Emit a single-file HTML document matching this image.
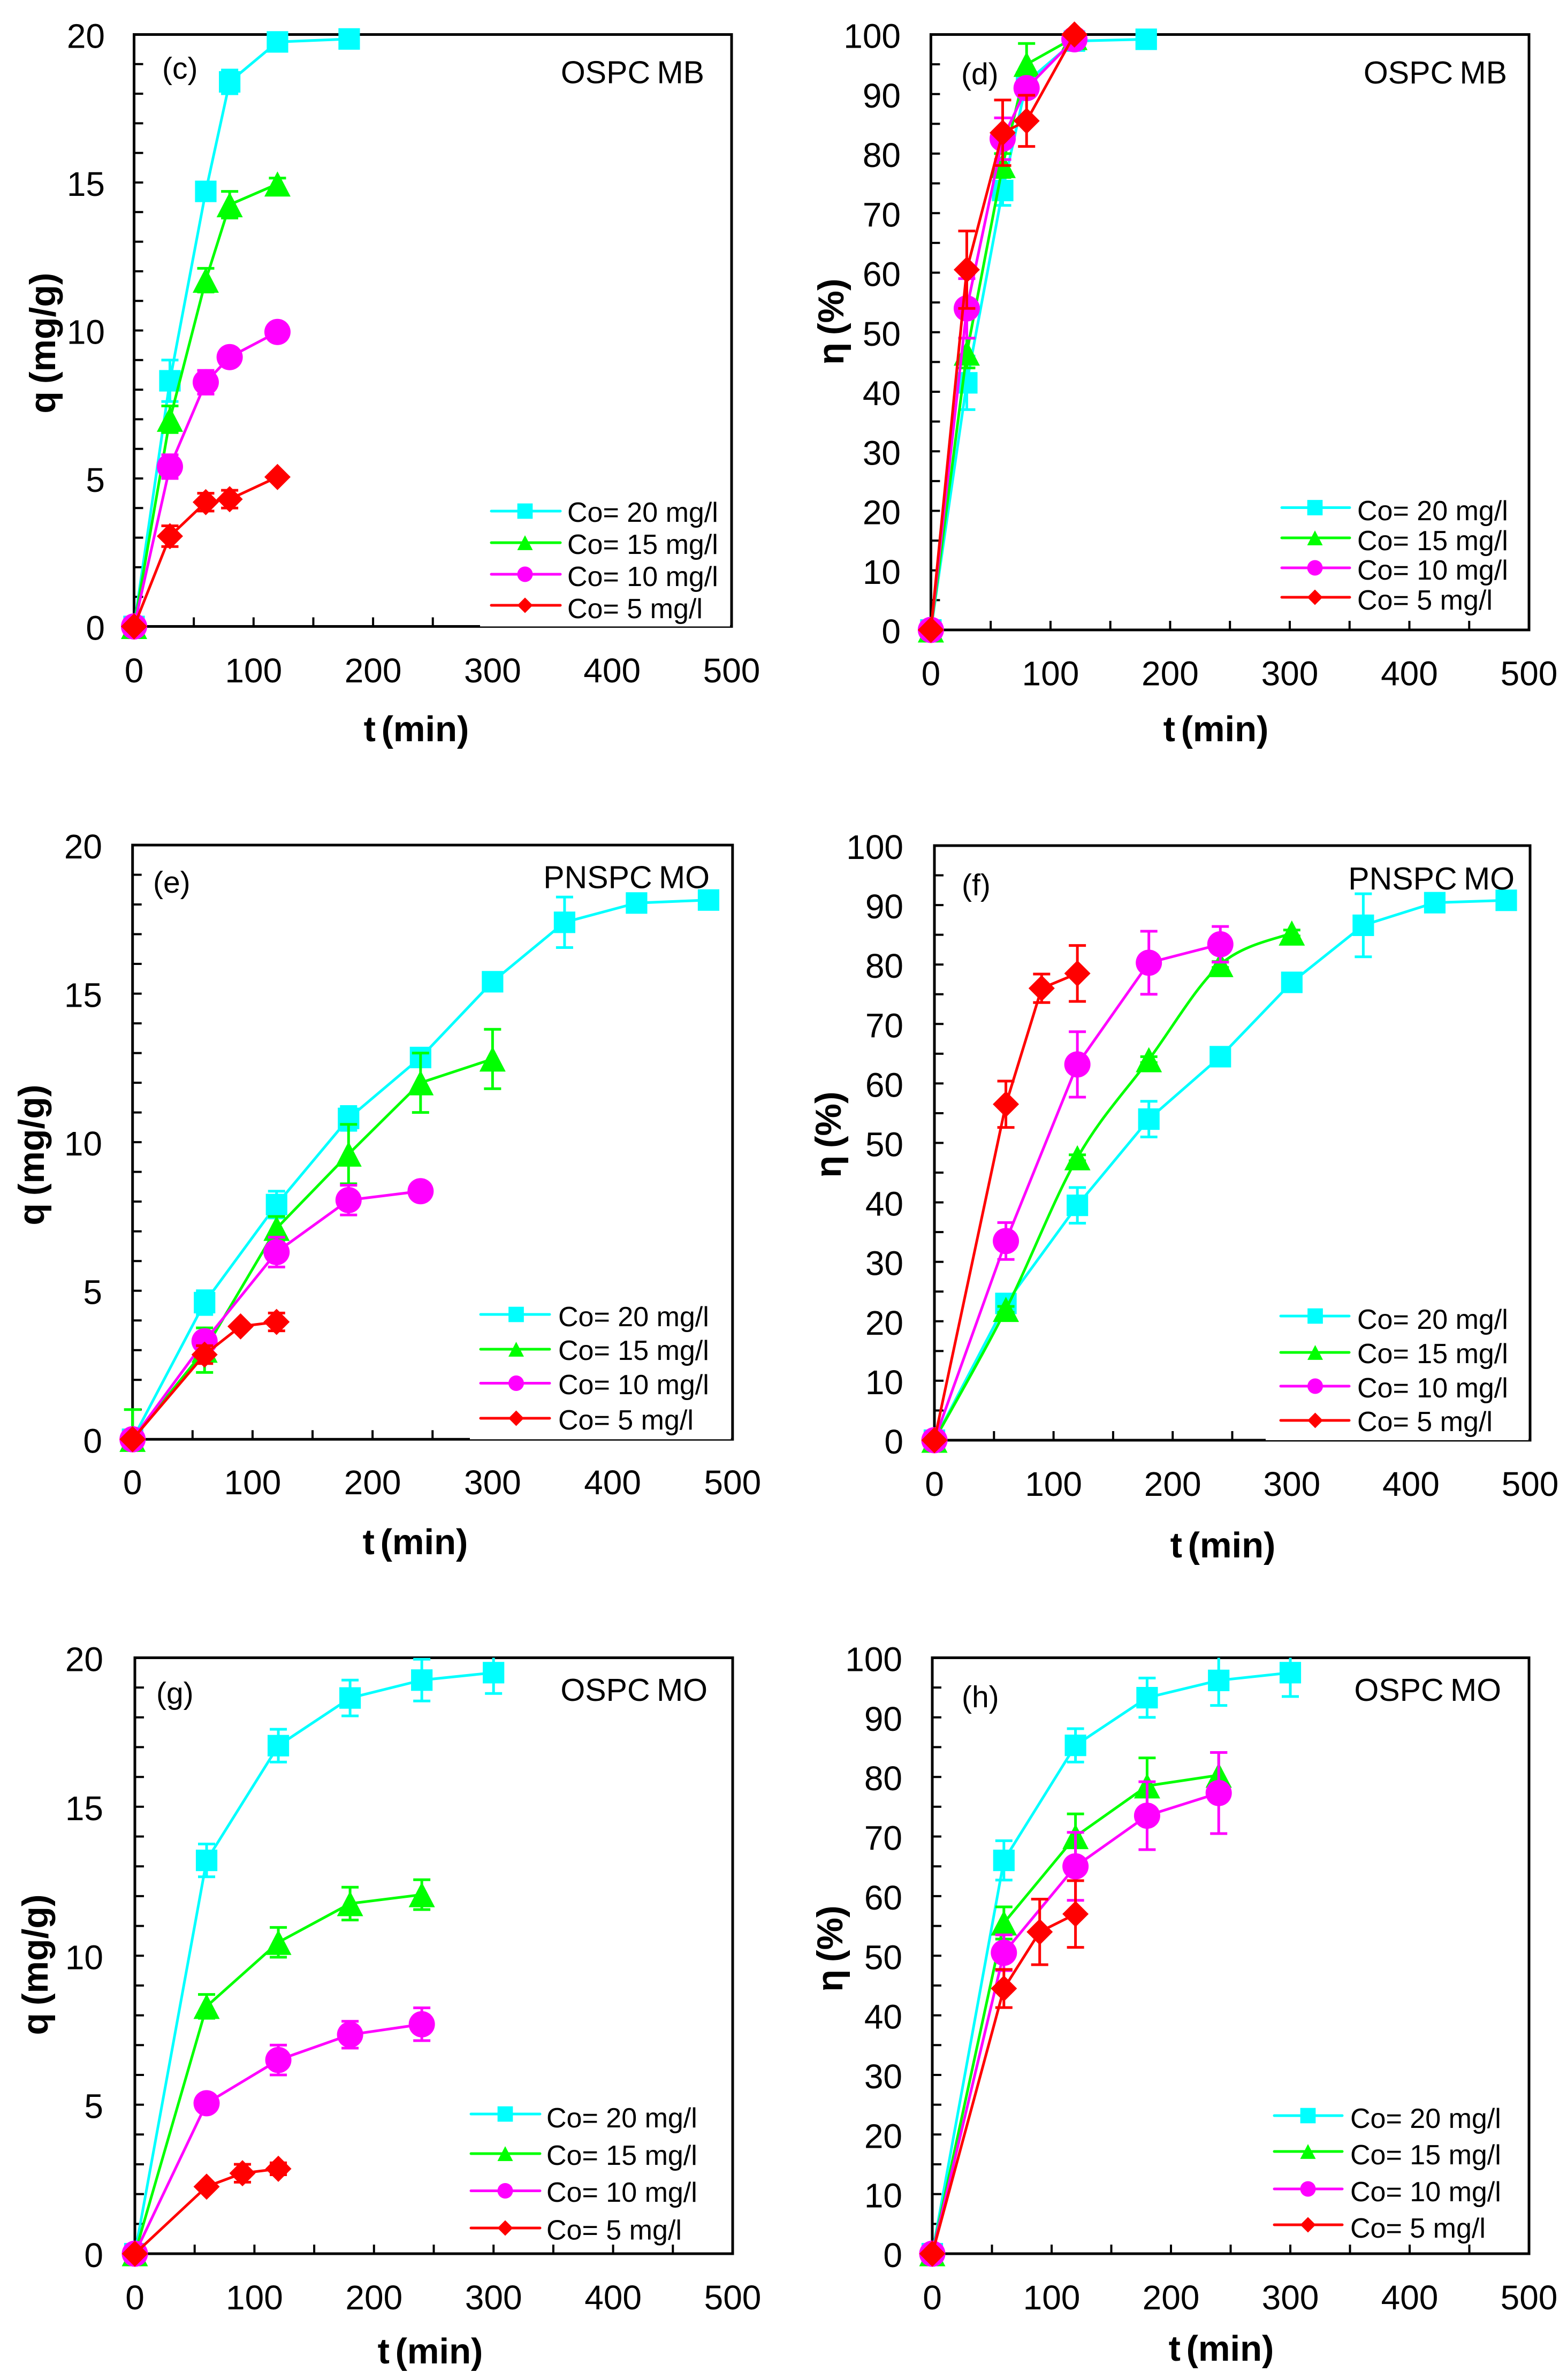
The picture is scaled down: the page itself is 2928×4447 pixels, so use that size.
<!DOCTYPE html>
<html lang="en">
<head>
<meta charset="utf-8">
<title>Adsorption kinetics panels</title>
<style>
html,body{margin:0;padding:0;background:#fff;}
svg{display:block;}
text{font-family:"Liberation Sans",Arial,sans-serif;fill:#000;}
</style>
</head>
<body>
<svg id="figure" xmlns="http://www.w3.org/2000/svg" width="2928" height="4447" viewBox="0 0 2928 4447"></svg>
<script>
// ---- shared axis data ----
const xTickLabels = [0, 100, 200, 300, 400, 500];
const xMinorTicks = [50, 100, 150, 200, 250, 300, 350, 400, 450];
const qTickLabels = [0, 5, 10, 15, 20];
const qMinorTicks = [1,2,3,4,5,6,7,8,9,10,11,12,13,14,15,16,17,18,19];
const etaTickLabels = [0, 10, 20, 30, 40, 50, 60, 70, 80, 90, 100];
const etaMinorTicks = [5,10,15,20,25,30,35,40,45,50,55,60,65,70,75,80,85,90,95];
const seriesLabels = ["Co= 20 mg/l", "Co= 15 mg/l", "Co= 10 mg/l", "Co= 5 mg/l"];

// ---- panel (c) ----
const cT20 = [0, 30, 60, 80, 120, 180];
const cV20 = [0, 8.3, 14.7, 18.4, 19.75, 19.85];
const cE20 = [0, 0.7, 0.3, 0.4, 0.1, 0];
const cT15 = [0, 30, 60, 80, 120];
const cV15 = [0, 7.0, 11.7, 14.25, 14.95];
const cE15 = [0, 0.45, 0.4, 0.45, 0.2];
const cT10 = [0, 30, 60, 80, 120];
const cV10 = [0, 5.4, 8.25, 9.1, 9.95];
const cE10 = [0, 0.4, 0.4, 0.2, 0.1];
const cT5 = [0, 30, 60, 80, 120];
const cV5 = [0, 3.05, 4.2, 4.3, 5.05];
const cE5 = [0, 0.35, 0.3, 0.3, 0.1];

// ---- panel (d) ----
const dT20 = [0, 30, 60, 80, 120, 180];
const dV20 = [0, 41.5, 73.8, 92, 98.9, 99.2];
const dE20 = [0, 4.5, 2.5, 1, 1, 0];
const dT15 = [0, 30, 60, 80, 120];
const dV15 = [0, 46.5, 78, 95, 99.5];
const dE15 = [0, 2.5, 2, 3.5, 0.5];
const dT10 = [0, 30, 60, 80, 120];
const dV10 = [0, 54, 82.5, 91, 99.2];
const dE10 = [0, 5, 3.5, 1, 0.5];
const dT5 = [0, 30, 60, 80, 120];
const dV5 = [0, 60.5, 83.5, 85.5, 100];
const dE5 = [0, 6.5, 5.5, 4.3, 0];

// ---- panel (e) ----
const eT20 = [0, 60, 120, 180, 240, 300, 360, 420, 480];
const eV20 = [0, 4.6, 7.9, 10.8, 12.85, 15.4, 17.4, 18.05, 18.15];
const eE20 = [0.1, 0.4, 0.45, 0.4, 0.1, 0, 0.85, 0, 0];
const eT15 = [0, 60, 120, 180, 240, 300];
const eV15 = [0, 3, 7.1, 9.6, 12, 12.8];
const eE15 = [1.0, 0.75, 0.4, 1.0, 1.0, 1.0];
const eT10 = [0, 60, 120, 180, 240];
const eV10 = [0, 3.3, 6.3, 8.05, 8.35];
const eE10 = [0.1, 0.3, 0.5, 0.5, 0.1];
const eT5 = [0, 60, 90, 120];
const eV5 = [0, 2.85, 3.8, 3.95];
const eE5 = [0, 0.3, 0.1, 0.3];

// ---- panel (f) ----
const fT20 = [0, 60, 120, 180, 240, 300, 360, 420, 480];
const fV20 = [0, 23, 39.5, 54, 64.5, 77, 86.6, 90.4, 90.8];
const fE20 = [0, 0.5, 3, 3, 0, 0, 5.3, 0, 0];
const fT15 = [0, 60, 120, 180, 240, 300];
const fV15 = [0, 22, 47.5, 64, 80, 85.3];
const fE15 = [0, 0.5, 0.5, 0.5, 0.5, 0.5];
const fT10 = [0, 60, 120, 180, 240];
const fV10 = [0, 33.5, 63.2, 80.3, 83.4];
const fE10 = [0, 3.1, 5.5, 5.3, 3];
const fT5 = [0, 60, 90, 120];
const fV5 = [0, 56.5, 76, 78.5];
const fE5 = [0, 3.9, 2.4, 4.7];

// ---- panel (g) ----
const gT20 = [0, 60, 120, 180, 240, 300];
const gV20 = [0, 13.2, 17.05, 18.65, 19.25, 19.5];
const gE20 = [0, 0.55, 0.55, 0.6, 0.7, 0.7];
const gT15 = [0, 60, 120, 180, 240];
const gV15 = [0, 8.3, 10.45, 11.75, 12.05];
const gE15 = [0, 0.4, 0.5, 0.55, 0.5];
const gT10 = [0, 60, 120, 180, 240];
const gV10 = [0, 5.05, 6.5, 7.35, 7.7];
const gE10 = [0, 0.1, 0.5, 0.45, 0.55];
const gT5 = [0, 60, 90, 120];
const gV5 = [0, 2.25, 2.7, 2.85];
const gE5 = [0, 0.1, 0.3, 0.2];

// ---- panel (h) ----
const hT20 = [0, 60, 120, 180, 240, 300];
const hV20 = [0, 66, 85.3, 93.3, 96.2, 97.5];
const hE20 = [0, 3.3, 2.8, 3.3, 4.2, 4];
const hT15 = [0, 60, 120, 180, 240];
const hV15 = [0, 55.5, 70, 78.5, 80.3];
const hE15 = [0, 2.7, 3.8, 4.7, 3.8];
const hT10 = [0, 60, 120, 180, 240];
const hV10 = [0, 50.5, 65, 73.5, 77.3];
const hE10 = [0, 3, 5.7, 5.7, 6.8];
const hT5 = [0, 60, 90, 120];
const hV5 = [0, 44.5, 54, 57];
const hE5 = [0, 3.2, 5.5, 5.6];

const seriesStyles = [
  {color: "#00ffff", marker: "square", key: "co-20"},
  {color: "#00ff00", marker: "triangle", key: "co-15"},
  {color: "#ff00ff", marker: "circle", key: "co-10"},
  {color: "#ff0000", marker: "diamond", key: "co-5"}
];

const panels = [
  {id: "c", yLabel: "q (mg/g)", yMax: 20, yTicks: qTickLabels, yMinor: qMinorTicks, title: "OSPC MB", tag: "(c)",
   L: 250.5, R: 1367, T: 64.5, B: 1170.5,
   xlx: 778, xly: 1385, ylx: 103, yly: 641, tx: 1316, ty: 155.6, gx: 303, gy: 147, tick: 1275, yr: 196,
   leg: {x0: 918, x1: 1047, m: 981, tx: 1060, rows: [955, 1014, 1073, 1131], texts: [975, 1035, 1095, 1155]}, box: 897,
   data: [[cT20, cV20, cE20], [cT15, cV15, cE15], [cT10, cV10, cE10], [cT5, cV5, cE5]]},
  {id: "d", yLabel: "\u03B7 (%)", yMax: 100, yTicks: etaTickLabels, yMinor: etaMinorTicks, title: "OSPC MB", tag: "(d)",
   L: 1739.4, R: 2857, T: 64.5, B: 1177,
   xlx: 2272, xly: 1385, ylx: 1576, yly: 601, tx: 2816, ty: 156, gx: 1796, gy: 157.5, tick: 1280.5, yr: 1683,
   leg: {x0: 2395, x1: 2522, m: 2457, tx: 2536, rows: [948.5, 1005, 1061, 1116], texts: [972, 1028, 1083, 1139]}, box: 0,
   data: [[dT20, dV20, dE20], [dT15, dV15, dE15], [dT10, dV10, dE10], [dT5, dV5, dE5]]},
  {id: "e", yLabel: "q (mg/g)", yMax: 20, yTicks: qTickLabels, yMinor: qMinorTicks, title: "PNSPC MO", tag: "(e)",
   L: 247.7, R: 1368.8, T: 1579, B: 2689.3,
   xlx: 776, xly: 2904, ylx: 82, yly: 2158, tx: 1326, ty: 1659.5, gx: 286, gy: 1668, tick: 2792, yr: 191,
   leg: {x0: 898, x1: 1027, m: 964.5, tx: 1043, rows: [2456, 2521, 2584.5, 2650], texts: [2478, 2541, 2605, 2671]}, box: 878,
   data: [[eT20, eV20, eE20], [eT15, eV15, eE15], [eT10, eV10, eE10], [eT5, eV5, eE5]]},
  {id: "f", yLabel: "\u03B7 (%)", yMax: 100, yTicks: etaTickLabels, yMinor: etaMinorTicks, title: "PNSPC MO", tag: "(f)",
   L: 1746, R: 2859, T: 1580, B: 2691,
   xlx: 2285, xly: 2910, ylx: 1571, yly: 2120, tx: 2830, ty: 1662, gx: 1797, gy: 1673, tick: 2795, yr: 1688,
   leg: {x0: 2393, x1: 2521, m: 2457.5, tx: 2536, rows: [2459, 2527, 2590, 2654], texts: [2483, 2547, 2611, 2674]}, box: 2365, smooth: [1],
   data: [[fT20, fV20, fE20], [fT15, fV15, fE15], [fT10, fV10, fE10], [fT5, fV5, fE5]]},
  {id: "g", yLabel: "q (mg/g)", yMax: 20, yTicks: qTickLabels, yMinor: qMinorTicks, title: "OSPC MO", tag: "(g)",
   L: 252, R: 1369, T: 3097.5, B: 4211,
   xlx: 804, xly: 4416, ylx: 89, yly: 3671, tx: 1322, ty: 3178, gx: 292, gy: 3183, tick: 4315, yr: 193,
   leg: {x0: 880, x1: 1009, m: 944, tx: 1021, rows: [3950, 4024, 4093.5, 4163], texts: [3975, 4045, 4114, 4184.5]}, box: 0,
   data: [[gT20, gV20, gE20], [gT15, gV15, gE15], [gT10, gV10, gE10], [gT5, gV5, gE5]]},
  {id: "h", yLabel: "\u03B7 (%)", yMax: 100, yTicks: etaTickLabels, yMinor: etaMinorTicks, title: "OSPC MO", tag: "(h)",
   L: 1742, R: 2857, T: 3097.5, B: 4211,
   xlx: 2282, xly: 4411, ylx: 1574, yly: 3641, tx: 2805, ty: 3178, gx: 1797, gy: 3190, tick: 4315, yr: 1686,
   leg: {x0: 2381, x1: 2508, m: 2444, tx: 2523, rows: [3953, 4020, 4090, 4157], texts: [3976, 4044, 4113, 4181]}, box: 0,
   data: [[hT20, hV20, hE20], [hT15, hV15, hE15], [hT10, hV10, hE10], [hT5, hV5, hE5]]}
];

const NS = "http://www.w3.org/2000/svg";
const root = document.getElementById("figure");

function svgEl(parent, tag, props) {
  const el = document.createElementNS(NS, tag);
  for (const k in props) el.setAttribute(k, props[k]);
  parent.appendChild(el);
  return el;
}

function smoothPath(pts) {
  let d = "M" + pts[0][0] + " " + pts[0][1];
  for (let i = 0; i < pts.length - 1; i++) {
    const p0 = pts[Math.max(i - 1, 0)], p1 = pts[i], p2 = pts[i + 1], p3 = pts[Math.min(i + 2, pts.length - 1)];
    const c1x = p1[0] + (p2[0] - p0[0]) / 6, c1y = p1[1] + (p2[1] - p0[1]) / 6;
    const c2x = p2[0] - (p3[0] - p1[0]) / 6, c2y = p2[1] - (p3[1] - p1[1]) / 6;
    d += " C" + c1x + " " + c1y + " " + c2x + " " + c2y + " " + p2[0] + " " + p2[1];
  }
  return d;
}

function drawMarker(parent, kind, cx, cy, size, color) {
  // size is the full marker width
  let el;
  if (kind === "square") {
    const s = size * 0.82;
    el = svgEl(parent, "rect", {x: cx - s / 2, y: cy - s / 2, width: s, height: s, fill: color});
  } else if (kind === "triangle") {
    const h = size / 2;
    el = svgEl(parent, "polygon", {points: (cx - h) + "," + (cy + h * 0.96) + " " + (cx + h) + "," + (cy + h * 0.96) + " " + cx + "," + (cy - h * 0.96), fill: color});
  } else if (kind === "circle") {
    el = svgEl(parent, "circle", {cx: cx, cy: cy, r: size / 2, fill: color});
  } else {
    const h = size / 2;
    el = svgEl(parent, "polygon", {points: (cx - h) + "," + cy + " " + cx + "," + (cy - h) + " " + (cx + h) + "," + cy + " " + cx + "," + (cy + h), fill: color});
  }
  return el;
}

panels.forEach(function (p) {
  const xScale = function (t) { return p.L + (t / 500) * (p.R - p.L); };
  const yScale = function (v) { return p.B - (v / p.yMax) * (p.B - p.T); };

  const g = svgEl(root, "g", {});
  
  

  // ticks
  xMinorTicks.forEach(function (t) {
    const tk = svgEl(g, "line", {x1: xScale(t), x2: xScale(t), y1: p.B, y2: p.B - 17, stroke: "#000", "stroke-width": 4});
    
    
  });
  p.yMinor.forEach(function (v) {
    const tk = svgEl(g, "line", {x1: p.L, x2: p.L + 17, y1: yScale(v), y2: yScale(v), stroke: "#000", "stroke-width": 4});
    
    
  });

  // frame
  const frame = svgEl(g, "rect", {x: p.L, y: p.T, width: p.R - p.L, height: p.B - p.T, fill: "none", stroke: "#000", "stroke-width": 5});
  
  

  // tick labels
  xTickLabels.forEach(function (t) {
    const tl = svgEl(g, "text", {x: xScale(t), y: p.tick, "font-size": 64, "text-anchor": "middle"});
    tl.textContent = String(t);
    
    
  });
  p.yTicks.forEach(function (v) {
    const tl = svgEl(g, "text", {x: p.yr, y: yScale(v) + 25, "font-size": 64, "text-anchor": "end"});
    tl.textContent = String(v);
    
    
  });

  // axis titles
  const xt = svgEl(g, "text", {x: p.xlx, y: p.xly, "font-size": 67, "font-weight": "bold", "text-anchor": "middle", "word-spacing": "-8"});
  xt.textContent = "t (min)";
  
  

  const yt = svgEl(g, "text", {transform: "translate(" + p.ylx + " " + p.yly + ") rotate(-90)", "font-size": 68, "font-weight": "bold", "text-anchor": "middle", "word-spacing": "-5"});
  yt.textContent = p.yLabel;
  
  

  // legend backing box hides ticks in some panels
  if (p.box) {
    const bx = svgEl(g, "rect", {x: p.box, y: p.leg.rows[0] - 40, width: p.R - 3 - p.box, height: p.B - p.leg.rows[0] + 40, fill: "#fff"});
    
    
  }

  // series
  p.data.forEach(function (d, si) {
    const st = seriesStyles[si];
    const sg = svgEl(g, "g", {});
    
    
    const pts = d[0].map(function (t, i) { return [xScale(t), yScale(d[1][i])]; });
    const isSmooth = p.smooth && p.smooth.indexOf(si) >= 0;
    const pathD = isSmooth ? smoothPath(pts) : "M" + pts.map(function (q) { return q[0] + " " + q[1]; }).join(" L");
    const ln = svgEl(sg, "path", {d: pathD, fill: "none", stroke: st.color, "stroke-width": 5, "stroke-linejoin": "round"});
    
    
    d[0].forEach(function (t, i) {
      const e = d[2][i];
      if (e <= 0) return;
      const x = xScale(t);
      const hiVal = d[1][i] + e;
      const clipped = hiVal > p.yMax;
      const hi = yScale(Math.min(hiVal, p.yMax));
      const lo = yScale(Math.max(d[1][i] - e, i === 0 ? 0 : -Infinity));
      const topCap = clipped ? "" : " M" + (x - 16) + " " + hi + " H" + (x + 16);
      const bar = svgEl(sg, "path", {d: "M" + x + " " + hi + " L" + x + " " + lo + topCap + " M" + (x - 16) + " " + lo + " H" + (x + 16), fill: "none", stroke: st.color, "stroke-width": 5});
      
      
    });
    pts.forEach(function (q) {
      const mk = drawMarker(sg, st.marker, q[0], q[1], 49, st.color);
      
      
    });
  });

  // panel labels
  const tag = svgEl(g, "text", {x: p.gx, y: p.gy, "font-size": 57});
  tag.textContent = p.tag;
  
  

  const ttl = svgEl(g, "text", {x: p.tx, y: p.ty, "font-size": 59, "text-anchor": "end", "word-spacing": "-4"});
  ttl.textContent = p.title;
  
  

  // legend
  const lg = svgEl(g, "g", {});
  
  
  seriesLabels.forEach(function (label, i) {
    const st = seriesStyles[i];
    const y = p.leg.rows[i];
    const entry = svgEl(lg, "g", {});
    
    
    svgEl(entry, "line", {x1: p.leg.x0, x2: p.leg.x1, y1: y, y2: y, stroke: st.color, "stroke-width": 5, "stroke-linecap": "round"});
    drawMarker(entry, st.marker, p.leg.m, y, st.marker === "square" ? 35 : 29, st.color);
    const tx = svgEl(entry, "text", {x: p.leg.tx, y: p.leg.texts[i], "font-size": 52});
    tx.textContent = label;
  });
});
</script>
</body>
</html>
